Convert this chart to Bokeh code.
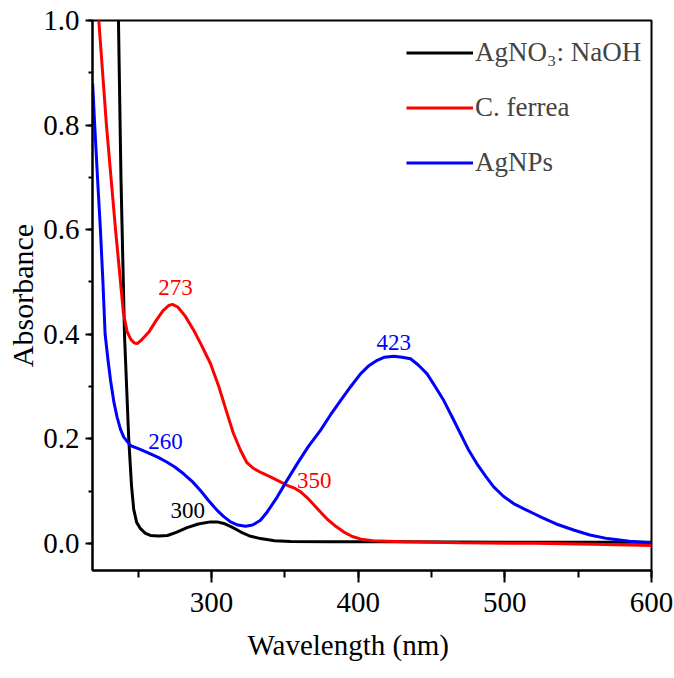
from bokeh.plotting import figure
from bokeh.models import (Range1d, SingleIntervalTicker, PrintfTickFormatter,
                          Legend, LegendItem, Title, ColumnDataSource)
from bokeh.core.properties import value
from bokeh.embed import file_html
from bokeh.resources import INLINE

# ---------------- data ----------------
series_names = ["AgNO\u2083: NaOH", "C. ferrea", "AgNPs"]
series_colors = ["#000000", "#ff0000", "#0000ff"]

agno3_wl = [234, 236.6, 238.3, 240.7, 243.6, 245.5, 247, 249, 251.6, 255, 258.4,
            264, 270, 276, 283.4, 291, 299.3, 304, 308.4, 314, 319.8, 326,
            333.4, 343, 354, 380, 430, 500, 600]
agno3_abs = [1.15, 1.0, 0.7, 0.4, 0.2, 0.11, 0.065, 0.04, 0.028, 0.019, 0.015,
             0.014, 0.015, 0.021, 0.03, 0.037, 0.041, 0.041, 0.038, 0.031, 0.022, 0.014,
             0.009, 0.005, 0.0035, 0.003, 0.003, 0.002, 0.002]

ferrea_wl = [219, 223.2, 228.4, 234.6, 240, 242.5, 245, 247.5, 249.4, 252, 257.3,
             262, 267, 271, 273.4, 277, 282, 288, 293, 299.3, 305, 310.7, 315,
             319.8, 324, 328.8, 334, 340.2, 346, 351.6, 357, 361, 365, 369, 374.3,
             379, 385, 390, 396, 402, 410, 430, 470, 520, 560, 600]
ferrea_abs = [1.1, 1.0, 0.8, 0.6, 0.44, 0.405, 0.39, 0.383, 0.382, 0.388, 0.404,
              0.425, 0.445, 0.455, 0.457, 0.452, 0.435, 0.407, 0.38, 0.344, 0.3, 0.248, 0.21,
              0.178, 0.155, 0.143, 0.135, 0.127, 0.119, 0.111, 0.105, 0.098, 0.088, 0.076, 0.06,
              0.046, 0.032, 0.022, 0.013, 0.008, 0.005, 0.003, 0.001, 0.0, -0.002, -0.004]

agnps_wl = [219, 220.4, 222.3, 224.3, 226, 227.5, 229.5, 231.2, 233.5, 235.7, 238,
            240.2, 244.8, 251, 258.4, 264, 269.8, 275, 281, 287, 292.5, 298, 303.9,
            308, 313, 318, 323.2, 328, 333.4, 338, 344.8, 351, 358.4, 366, 374.3,
            381, 388, 395, 401.6, 407, 413, 418, 424.3, 430, 435.7, 441, 447, 452.5,
            458.4, 464, 469.7, 475, 481, 487, 492.4, 499, 506, 513, 519.7, 524.7,
            535, 547.4, 558, 570, 585, 600]
agnps_abs = [0.88, 0.8, 0.7, 0.6, 0.5, 0.4, 0.35, 0.312, 0.27, 0.241, 0.218,
             0.203, 0.187, 0.18, 0.171, 0.164, 0.155, 0.146, 0.133, 0.118, 0.101, 0.082, 0.063,
             0.052, 0.041, 0.035, 0.0325, 0.035, 0.044, 0.06, 0.0885, 0.118, 0.152, 0.185, 0.216,
             0.245, 0.273, 0.3, 0.324, 0.339, 0.35, 0.356, 0.358, 0.356, 0.353, 0.341, 0.324, 0.3,
             0.273, 0.242, 0.21, 0.18, 0.152, 0.128, 0.108, 0.09, 0.076, 0.066, 0.057, 0.05,
             0.037, 0.025, 0.016, 0.009, 0.004, 0.001]

peak_text = ["273", "260", "300", "350", "423"]
peak_x = [275.5, 268.6, 283.8, 370.0, 424.3]
peak_y = [0.49, 0.194, 0.063, 0.12, 0.385]
peak_color = ["#ff0000", "#0000ff", "#000000", "#ff0000", "#0000ff"]

x_label = "Wavelength (nm)"
y_label = "Absorbance"

# ---------------- figure ----------------
FONT = "Liberation Serif"

p = figure(width=674, height=678, output_backend="svg", toolbar_location=None,
           x_range=Range1d(218.9, 600), y_range=Range1d(-0.052, 1.0),
           min_border_left=92, min_border_right=23, min_border_top=20,
           min_border_bottom=108)
p.grid.visible = False
p.outline_line_color = "black"
p.outline_line_width = 2
p.background_fill_color = "white"
p.border_fill_color = "white"

renderers = []
for wl, ab, col in [(agno3_wl, agno3_abs, series_colors[0]),
                    (ferrea_wl, ferrea_abs, series_colors[1]),
                    (agnps_wl, agnps_abs, series_colors[2])]:
    r = p.line(wl, ab, line_color=col, line_width=3)
    renderers.append(r)

# peak labels
src = ColumnDataSource(dict(x=peak_x, y=peak_y, t=peak_text, c=peak_color))
p.text(x="x", y="y", text="t", text_color="c", source=src,
       text_font=value(FONT), text_font_size="23px",
       text_align="center", text_baseline="middle")

# axes
xa = p.xaxis[0]
ya = p.yaxis[0]
xa.ticker = SingleIntervalTicker(interval=100, num_minor_ticks=2)
ya.ticker = SingleIntervalTicker(interval=0.2, num_minor_ticks=2)
ya.formatter = PrintfTickFormatter(format="%.1f")
for ax in (xa, ya):
    ax.axis_line_width = 2
    ax.axis_line_color = "black"
    ax.major_tick_line_width = 2
    ax.minor_tick_line_width = 2
    ax.major_tick_in = 0
    ax.minor_tick_in = 0
    ax.major_label_text_font = FONT
    ax.major_label_text_font_size = "29px"
    ax.major_label_text_color = "black"
xa.major_tick_out = 12
xa.minor_tick_out = 7
xa.major_label_standoff = 10
ya.major_tick_out = 7
ya.minor_tick_out = 4
ya.major_label_standoff = 6

# axis titles
p.add_layout(Title(text=x_label, align="left", offset=155, standoff=25,
                   text_font=FONT, text_font_size="29px", text_font_style="normal",
                   text_color="black"), "below")
p.add_layout(Title(text=y_label, align="center", standoff=3,
                   text_font=FONT, text_font_size="30px", text_font_style="normal",
                   text_color="black"), "left")

legend = Legend(items=[LegendItem(label=n, renderers=[r]) for n, r in zip(series_names, renderers)],
                location=(314, 392), padding=0, margin=0, spacing=24,
                glyph_width=67, glyph_height=31, label_height=31, label_standoff=2,
                label_text_font=FONT, label_text_font_size="27px",
                border_line_alpha=0, background_fill_alpha=0)
p.add_layout(legend)

open("out.html", "w").write(file_html(p, INLINE))
